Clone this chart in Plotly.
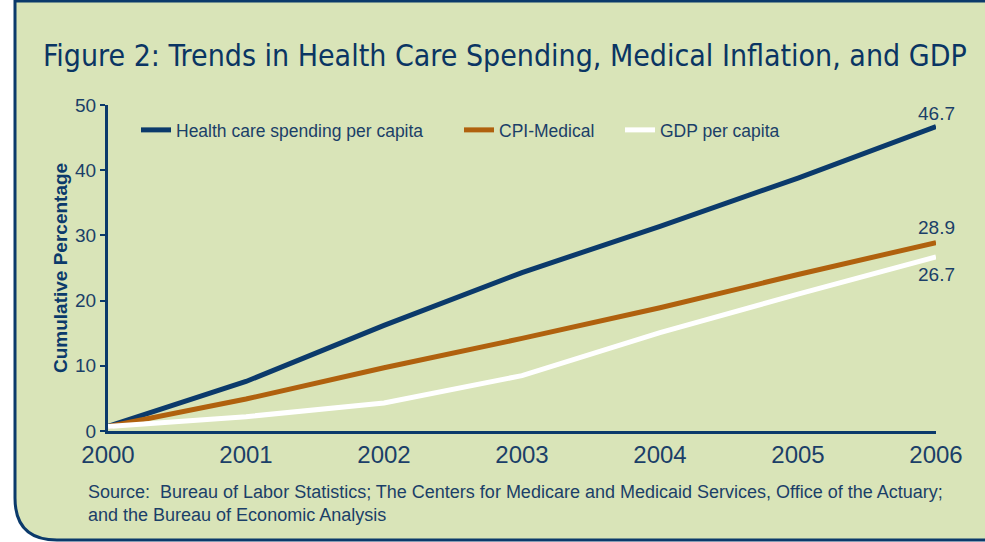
import plotly.graph_objects as go

# ---- data ----
years = [2000, 2001, 2002, 2003, 2004, 2005, 2006]
health_spending = [0.7, 7.6, 16.2, 24.3, 31.4, 38.8, 46.7]
cpi_medical = [0.7, 4.9, 9.7, 14.2, 18.9, 24.0, 28.9]
gdp_per_capita = [0.7, 2.2, 4.3, 8.5, 15.1, 21.0, 26.7]
series_names = ["Health care spending per capita", "CPI-Medical", "GDP per capita"]
y_ticks = [0, 10, 20, 30, 40, 50]

# ---- layout constants ----
W, H = 985, 542
L, R, T, B = 108, 49, 105, 111
PW, PH = W - L - R, H - T - B
NAVY = "#0b3a6b"
TXT = "#1b3f68"
ORANGE = "#b0610e"
BG = "#d9e4b8"
FONT = "Liberation Sans, Arial, sans-serif"


def px(x):
    return (x - L) / PW


def py(y):
    return (H - B - y) / PH


fig = go.Figure()
colors = [NAVY, ORANGE, "#ffffff"]
series = [health_spending, cpi_medical, gdp_per_capita]
legends = ["legend", "legend2", "legend3"]
for name, vals, col, lg in zip(series_names, series, colors, legends):
    fig.add_trace(go.Scatter(x=years, y=vals, mode="lines", name=name,
                             line=dict(color=col, width=5), legend=lg,
                             cliponaxis=False, hoverinfo="skip"))

# end labels
shifts = [13, 15, -18]
for vals, sh in zip(series, shifts):
    fig.add_annotation(x=years[-1], y=vals[-1], text=f"{vals[-1]:.1f}",
                       showarrow=False, yshift=sh, xanchor="center",
                       font=dict(family=FONT, size=19, color=TXT))

# panel background
path = (f"M {px(15)},{py(1)} L {px(15)},{py(498)} "
        f"Q {px(15)},{py(540)} {px(57)},{py(540)} "
        f"L {px(1010)},{py(540)} L {px(1010)},{py(1)} Z")
fig.add_shape(type="path", path=path, xref="paper", yref="paper",
              fillcolor=BG, line=dict(color=NAVY, width=3), layer="below")

# title
fig.add_annotation(xref="paper", yref="paper", x=px(41), y=py(55),
                   xanchor="left", yanchor="middle", showarrow=False,
                   text="Figure 2: Trends in Health Care Spending, Medical Inflation, and GDP",
                   font=dict(family="DejaVu Sans Condensed, sans-serif",
                             size=30, color="#0a3563"))

# y-axis title
fig.add_annotation(xref="paper", yref="paper", x=px(60), y=py(268),
                   xanchor="center", yanchor="middle", showarrow=False,
                   textangle=-90, text="<b>Cumulative Percentage</b>",
                   font=dict(family=FONT, size=19, color=NAVY))

# source
fig.add_annotation(xref="paper", yref="paper", x=px(86), y=py(503),
                   xanchor="left", yanchor="middle", showarrow=False, align="left",
                   text="Source:  Bureau of Labor Statistics; The Centers for Medicare and Medicaid Services, Office of the Actuary;<br>and the Bureau of Economic Analysis",
                   font=dict(family=FONT, size=18, color=TXT))

leg_common = dict(orientation="h", xanchor="left", yanchor="middle",
                  bgcolor="rgba(0,0,0,0)", font=dict(family=FONT, size=17.5, color=TXT),
                  itemwidth=30, tracegroupgap=0)
fig.update_layout(
    width=W, height=H,
    margin=dict(l=L, r=R, t=T, b=B),
    paper_bgcolor="white", plot_bgcolor="rgba(0,0,0,0)",
    showlegend=True,
    legend=dict(x=px(136), y=py(130), **leg_common),
    legend2=dict(x=px(459), y=py(130), **leg_common),
    legend3=dict(x=px(620), y=py(130), **leg_common),
    xaxis=dict(range=[2000, 2006], tickvals=years, ticktext=[str(y) for y in years],
               showgrid=False, zeroline=False, showline=True, linecolor=NAVY,
               linewidth=3, ticks="", ticklabelstandoff=0,
               tickfont=dict(family=FONT, size=24, color=TXT)),
    yaxis=dict(range=[0, 50], tickvals=y_ticks, showgrid=False, zeroline=False,
               showline=True, linecolor=NAVY, linewidth=3, ticks="outside",
               ticklen=5, tickwidth=2, tickcolor=NAVY,
               tickfont=dict(family=FONT, size=19, color=TXT)),
)

fig.write_html("out.html")
